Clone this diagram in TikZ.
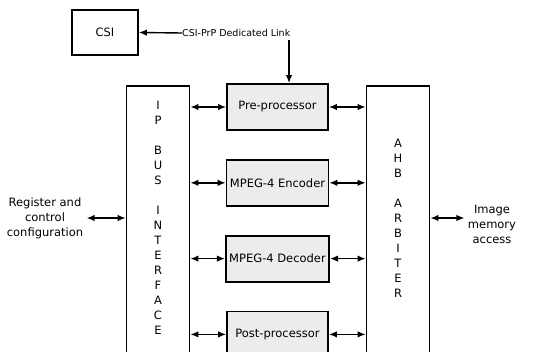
\documentclass[tikz,border=0pt]{standalone}
\usepackage{fontspec}
\setmainfont{DejaVu Sans}
\usetikzlibrary{arrows.meta, positioning}
\tikzstyle{block} = [rectangle, 
minimum width=101pt, 
minimum height=46pt, 
text centered, 
draw=black, 
line width=1.8pt,
fill=gray!15]
\tikzstyle{bus} = [rectangle, 
minimum width=63pt, 
minimum height=290pt, 
anchor=north,
draw=black, 
line width=1.8pt]
\tikzstyle{letters} = [align=center, font=\fontsize{11.5}{15}\selectfont]
\tikzstyle{arrow} = [line width=1.4pt, {Latex[length=8pt,width=6.5pt]}-{Latex[length=8pt,width=6.5pt]}]
\tikzstyle{onearrow} = [line width=1.4pt, -{Latex[length=8pt,width=6.5pt]}]

\begin{document}
\begin{tikzpicture}[x=1pt, y=-1pt, font=\fontsize{11.5}{15}\selectfont]
\useasboundingbox (0,0) rectangle (545,351);
\clip (0,0) rectangle (545,351);

\node (csi) [rectangle, draw=black, line width=1.8pt, minimum width=66pt, minimum height=45pt] at (105,32.5) {CSI};
\node (link) [anchor=west, font=\fontsize{9.5}{11}\selectfont, inner sep=0pt] at (182,33) {CSI-PrP Dedicated Link};
\coordinate (tap) at (289,40);

\node (ipbus) [bus] at (158,85) {};
\node (ahb) [bus] at (398,85) {};
\node (iptext) [letters] at (158,217.5) {I\\P\\[15pt]B\\U\\S\\[15pt]I\\N\\T\\E\\R\\F\\A\\C\\E};
\node (ahbtext) [letters] at (398,218) {A\\H\\B\\[15pt]A\\R\\B\\I\\T\\E\\R};

\node (pre) [block] at (277.5,107) {Pre-processor};
\node (enc) [block, below=28pt of pre] {MPEG-4 Encoder};
\node (dec) [block, below=28pt of enc] {MPEG-4 Decoder};
\node (post) [block, below=28pt of dec] {Post-processor};

\node (reg) [align=center] at (45,218) {Register and\\control\\configuration};
\node (mem) [align=center] at (492,224) {Image\\memory\\access};

\draw [onearrow] (link.west) -- (csi.east);
\draw [onearrow] (tap) -- (tap |- pre.north);

\draw [arrow] (ipbus.east |- pre.west) -- (pre.west);
\draw [arrow] (pre.east) -- (ahb.west |- pre.east);
\draw [arrow] (ipbus.east |- enc.west) -- (enc.west);
\draw [arrow] (enc.east) -- (ahb.west |- enc.east);
\draw [arrow] (ipbus.east |- dec.west) -- (dec.west);
\draw [arrow] (dec.east) -- (ahb.west |- dec.east);
\draw [arrow] (ipbus.east |- post.west) -- (post.west);
\draw [arrow] (post.east) -- (ahb.west |- post.east);

\draw [arrow] (reg.east) -- (ipbus.west |- reg.east);
\draw [arrow] (ahb.east |- reg.east) -- (mem.west |- reg.east);

\end{tikzpicture}
\end{document}
